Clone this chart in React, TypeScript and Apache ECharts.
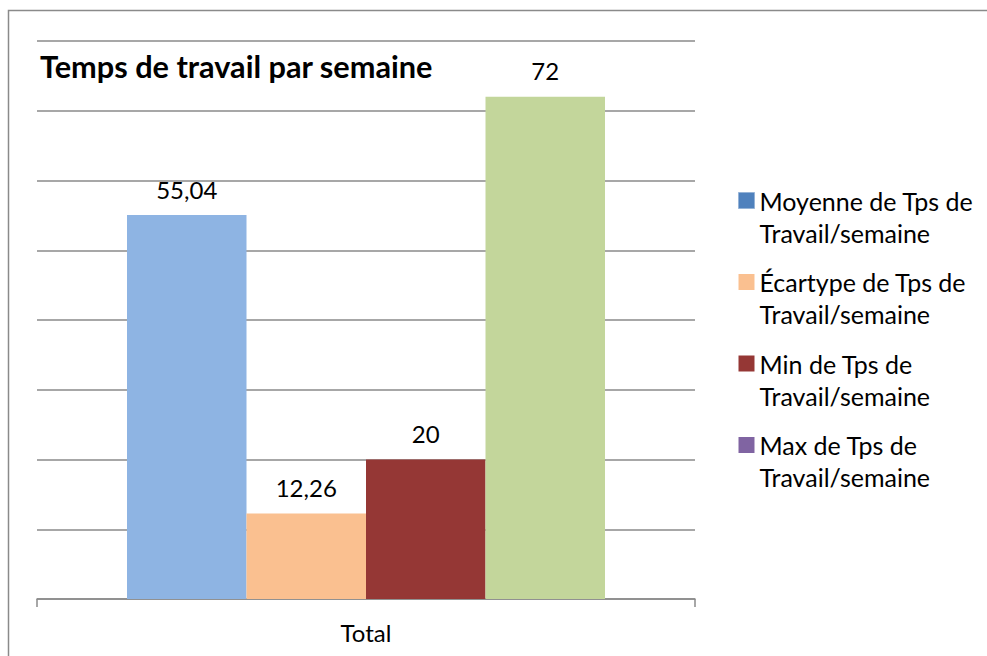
import React, { useEffect, useRef } from "react";
import * as echarts from "echarts";

const categories = ["Total"];
const seriesNames = [
  "Moyenne de Tps de Travail/semaine",
  "Écartype de Tps de Travail/semaine",
  "Min de Tps de Travail/semaine",
  "Max de Tps de Travail/semaine",
];
const seriesValues = [55.04, 12.26, 20, 72];
const legendColors = ["#4F81BD", "#FAC090", "#953735", "#8064A2"];
const barColors = ["#8EB4E3", "#FAC090", "#953735", "#C3D69B"];
const titleText = "Temps de travail par semaine";

const FONT = "Lato, Carlito, Calibri, 'Noto Sans', sans-serif";

export default function App() {
  const ref = useRef<HTMLDivElement>(null);
  useEffect(() => {
    if (!ref.current) return;
    const chart = echarts.init(ref.current, null, { renderer: "svg" });
    const legendLabels: Record<string, string> = {
      [seriesNames[0]]: "Moyenne de Tps de\nTravail/semaine",
      [seriesNames[1]]: "Écartype de Tps de\nTravail/semaine",
      [seriesNames[2]]: "Min de Tps de\nTravail/semaine",
      [seriesNames[3]]: "Max de Tps de\nTravail/semaine",
    };
    chart.setOption({
      animation: false,
      backgroundColor: "#ffffff",
      textStyle: { fontFamily: FONT },
      title: {
        text: titleText,
        left: 40,
        top: 51,
        padding: 0,
        textStyle: { fontFamily: FONT, fontSize: 30.7, fontWeight: "bold", color: "#000000" },
      },
      graphic: [
        {
          type: "rect",
          shape: { x: 8.5, y: 10.5, width: 2000, height: 2000 },
          style: { fill: "none", stroke: "#8a8a8a", lineWidth: 1.5 },
          z: 100,
        },
      ],
      legend: {
        orient: "vertical",
        left: 738,
        top: 152.5,
        padding: 0,
        icon: "rect",
        itemWidth: 16,
        itemHeight: 16,
        itemGap: -14.5,
        data: seriesNames.map((n, i) => ({
          name: n,
          itemStyle:
            i === 0
              ? { color: legendColors[i], borderColor: "#95B3D7", borderWidth: 1 }
              : { color: legendColors[i] },
        })),
        formatter: (name: string) => " \n" + (legendLabels[name] || name),
        textStyle: {
          fontFamily: FONT,
          fontSize: 25,
          color: "#000000",
          lineHeight: 32,
        },
      },
      grid: { left: 37, right: 292, top: 41, bottom: 57, containLabel: false },
      xAxis: {
        type: "category",
        data: categories,
        axisLine: { show: true, lineStyle: { color: "#8a8a8a", width: 1.5 } },
        axisTick: { show: true, length: 8, lineStyle: { color: "#8a8a8a", width: 1.5 } },
        axisLabel: { fontFamily: FONT, fontSize: 24, color: "#000000", margin: 21 },
      },
      yAxis: {
        type: "value",
        min: 0,
        max: 80,
        interval: 10,
        axisLine: { show: false },
        axisTick: { show: false },
        axisLabel: { show: false },
        splitLine: { show: true, lineStyle: { color: "#8a8a8a", width: 1.5 } },
      },
      series: seriesNames.map((n, i) => ({
        type: "bar",
        name: n,
        barWidth: 119.5,
        barGap: "0%",
        itemStyle: { color: legendColors[i] },
        data: [{ value: seriesValues[i], itemStyle: { color: barColors[i] } }],
        label: {
          show: true,
          position: "top",
          distance: 14,
          fontFamily: FONT,
          fontSize: 24,
          color: "#000000",
          formatter: (p: any) => String(p.value).replace(".", ","),
        },
      })),
    });
    return () => chart.dispose();
  }, []);
  return (
    <div
      ref={ref}
      style={{ position: "fixed", left: 0, top: 0, width: 987, height: 656 }}
    />
  );
}
